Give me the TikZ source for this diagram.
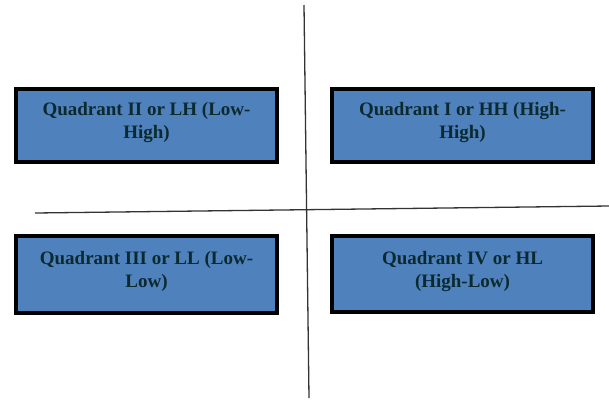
\documentclass[tikz,border=0pt]{standalone}
\usepackage{fontspec}
\setmainfont{Liberation Serif}
\definecolor{boxfill}{HTML}{4F81BD}
\definecolor{txt}{HTML}{0B2A30}
\definecolor{axis}{HTML}{333333}
\begin{document}
\begin{tikzpicture}[x=1pt,y=-1pt,
  quad/.style={draw=black,line width=4pt,fill=boxfill,minimum width=261pt,minimum height=73pt,
    inner sep=0pt,anchor=north west},
  qtext/.style={align=center,text=txt,inner sep=0pt,font=\bfseries\fontsize{19}{23}\selectfont},
  axisline/.style={draw=axis,line width=1.3pt}]
\useasboundingbox (0,0) rectangle (609,400);
\coordinate (vt) at (304,5);
\coordinate (vb) at (309,398);
\coordinate (hl) at (35,213);
\coordinate (hr) at (609,206);
\draw[axisline] (vt) -- (vb);
\draw[axisline] (hl) -- (hr);
\node[quad,label={[qtext,yshift=3pt]center:Quadrant II or LH (Low-\\High)}] (lh) at (14,87) {};
\node[quad,label={[qtext,yshift=3pt]center:Quadrant I or HH (High-\\High)}] (hh) at (330,87) {};
\node[quad,minimum height=77pt,label={[qtext,yshift=3pt]center:Quadrant III or LL (Low-\\Low)}] (ll) at (14,234) {};
\node[quad,minimum height=76pt,label={[qtext,yshift=3pt]center:Quadrant IV or HL\\(High-Low)}] (hlq) at (330,234) {};
\end{tikzpicture}
\end{document}
